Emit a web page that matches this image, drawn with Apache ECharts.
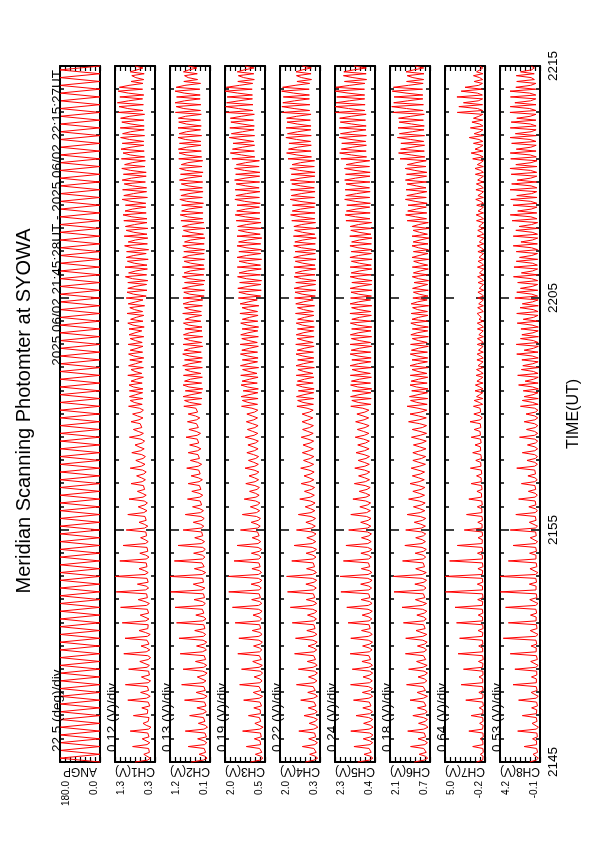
<!DOCTYPE html>
<html><head><meta charset="utf-8">
<script src="https://cdn.jsdelivr.net/npm/echarts@6/dist/echarts.min.js"></script>
<style>
html,body{margin:0;padding:0;width:595px;height:842px;overflow:hidden;background:#fff;}
#chart{position:absolute;left:0;top:0;width:842px;height:595px;transform-origin:0 0;transform:translateY(842px) rotate(-90deg);}
</style></head><body><div id="chart"></div>
<script>
// ---- data ----
const timeTickLabels = ['2145', '2155', '2205', '2215'];
const sampleStep = 5;   // seconds between channel samples
const angStep = 10;     // seconds between scan turning points
const panelNames = ['ANGP', 'CH1(V)', 'CH2(V)', 'CH3(V)', 'CH4(V)', 'CH5(V)', 'CH6(V)', 'CH7(V)', 'CH8(V)'];
const scaleLabels = ['22.5 (deg)/div', '0.12 (V)/div', '0.13 (V)/div', '0.19 (V)/div', '0.22 (V)/div', '0.24 (V)/div', '0.18 (V)/div', '0.64 (V)/div', '0.53 (V)/div'];
const yMin = [0.0, 0.3, 0.1, 0.5, 0.3, 0.4, 0.7, -0.2, -0.1];
const yMax = [180.0, 1.3, 1.2, 2.0, 2.0, 2.3, 2.1, 5.0, 4.2];
const titleText = 'Meridian Scanning Photomter at SYOWA';
const periodText = '2025 06/02 21:45:28UT - 2025 06/02 22:15:27UT';

const angp = [
0,180,0,180,0,180,0,180,0,180,0,180,0,180,0,180,0,180,0,180,
0,180,0,180,0,180,0,180,0,180,0,180,0,180,0,180,0,180,0,180,
0,180,0,180,0,180,0,180,0,180,0,180,0,180,0,180,0,180,0,180,
0,180,0,180,0,180,0,180,0,180,0,180,0,180,0,180,0,180,0,180,
0,180,0,180,0,180,0,180,0,180,0,180,0,180,0,180,0,180,0,180,
0,180,0,180,0,180,0,180,0,180,0,180,0,180,0,180,0,180,0,180,
0,180,0,180,0,180,0,180,0,180,0,180,0,180,0,180,0,180,0,180,
0,180,0,180,0,180,0,180,0,180,0,180,0,180,0,180,0,180,0,180,
0,180,0,180,0,180,0,180,0,180,0,180,0,180,0,180,0,180,0,180,
0];

const ch1 = [
0.80,0.48,0.42,0.50,0.58,0.44,0.40,0.46, 0.86,0.50,0.43,0.47,0.62,0.45,0.41,0.48,
0.92,0.46,0.40,0.52,0.60,0.47,0.42,0.45, 0.84,0.49,0.44,0.48,0.63,0.43,0.40,0.47,
0.98,0.51,0.42,0.50,0.66,0.46,0.43,0.49, 1.04,0.47,0.41,0.53,0.64,0.44,0.42,0.46,
0.96,0.50,0.44,0.49,0.68,0.47,0.41,0.48, 1.08,0.52,0.43,0.51,0.65,0.45,0.44,0.50,
1.05,0.49,0.42,0.54,0.70,0.48,0.43,0.47, 1.12,0.53,0.45,0.50,0.67,0.46,0.42,0.49,
1.16,0.51,0.44,0.55,0.72,0.49,0.45,0.51, 1.27,0.54,0.46,0.52,0.74,0.47,0.44,0.50,
1.30,0.55,0.47,0.56,0.70,0.50,0.46,0.52, 1.18,0.52,0.45,0.53,0.68,0.48,0.45,0.50,
1.10,0.54,0.47,0.55,0.66,0.51,0.46,0.53, 1.02,0.56,0.48,0.57,0.70,0.52,0.48,0.55,
0.98,0.58,0.50,0.60,0.72,0.55,0.49,0.57, 0.95,0.60,0.52,0.62,0.74,0.56,0.51,0.59,
0.90,0.62,0.54,0.64,0.76,0.58,0.52,0.61, 0.92,0.64,0.55,0.66,0.78,0.60,0.54,0.63,
0.88,0.66,0.57,0.70,0.80,0.62,0.56,0.65, 0.94,0.68,0.59,0.72,0.84,0.63,0.58,0.67,
0.90,0.70,0.60,0.74,0.86,0.65,0.59,0.69,
0.96,0.62,0.82,0.92,0.60,0.94,0.78,0.61, 0.94,0.60,0.84,0.95,0.62,0.90,0.76,0.59,
0.98,0.63,0.80,0.90,0.59,0.96,0.79,0.62, 0.93,0.58,0.83,0.96,0.61,0.92,0.75,0.60,
0.97,0.62,0.79,0.92,0.58,0.95,0.80,0.63, 0.95,0.57,0.85,0.98,0.60,0.91,0.77,0.58,
1.00,0.61,0.81,0.93,0.56,0.97,0.78,0.60, 1.02,0.52,0.84,1.00,0.50,0.98,0.80,0.51,
0.98,0.48,0.86,1.04,0.51,0.96,0.78,0.49, 1.05,0.50,0.82,0.99,0.47,1.02,0.83,0.52,
1.01,0.46,0.87,1.06,0.49,0.97,0.79,0.48, 1.07,0.50,0.83,1.02,0.48,1.04,0.81,0.50,
1.08,0.50,0.88,1.10,0.52,1.05,0.86,0.53, 1.04,0.53,0.90,1.12,0.49,1.08,0.84,0.51,
1.11,0.51,0.86,1.07,0.54,1.12,0.89,0.52, 1.09,0.52,0.91,1.13,0.55,1.06,0.87,0.54,
1.14,0.56,0.92,1.10,0.57,1.15,0.90,0.58, 1.12,0.58,0.94,1.16,0.56,1.11,0.91,0.57,
1.17,0.57,0.90,1.13,0.58,1.16,0.93,0.56, 1.22,0.60,0.98,1.20,0.59,1.24,0.96,0.61,
1.18,0.58,0.97,1.22,0.61,1.19,0.95,0.60, 0.90,0.58,0.78,0.88,0.57,0.92,0.75,0.60,
0.80];

const ch2 = [
0.62,0.28,0.18,0.24,0.40,0.22,0.17,0.26, 0.70,0.25,0.19,0.27,0.44,0.20,0.18,0.24,
0.78,0.27,0.17,0.23,0.42,0.24,0.19,0.28, 0.66,0.30,0.20,0.26,0.46,0.21,0.17,0.25,
0.80,0.26,0.18,0.29,0.48,0.23,0.20,0.27, 0.88,0.29,0.21,0.25,0.45,0.25,0.18,0.30,
0.84,0.27,0.19,0.28,0.50,0.22,0.21,0.26, 0.92,0.31,0.20,0.26,0.47,0.26,0.19,0.29,
0.95,0.28,0.22,0.30,0.52,0.24,0.20,0.27, 1.02,0.30,0.21,0.27,0.49,0.27,0.22,0.31,
1.06,0.29,0.23,0.31,0.54,0.25,0.21,0.28, 1.18,0.32,0.24,0.29,0.56,0.28,0.23,0.30,
1.20,0.31,0.22,0.33,0.53,0.26,0.24,0.32, 1.08,0.30,0.24,0.31,0.55,0.29,0.23,0.30,
0.98,0.33,0.25,0.34,0.52,0.30,0.26,0.33, 0.84,0.34,0.27,0.36,0.56,0.32,0.26,0.35,
0.78,0.36,0.28,0.38,0.58,0.33,0.29,0.37, 0.72,0.38,0.30,0.40,0.60,0.35,0.30,0.39,
0.70,0.40,0.31,0.42,0.62,0.37,0.32,0.41, 0.74,0.42,0.33,0.44,0.64,0.39,0.34,0.43,
0.70,0.44,0.35,0.46,0.66,0.41,0.36,0.45, 0.76,0.45,0.36,0.48,0.68,0.42,0.37,0.47,
0.72,0.47,0.38,0.50,0.70,0.44,0.39,0.49,
0.82,0.34,0.66,0.80,0.32,0.84,0.62,0.33, 0.78,0.30,0.68,0.84,0.33,0.80,0.64,0.31,
0.83,0.35,0.63,0.79,0.31,0.85,0.66,0.34, 0.80,0.31,0.67,0.85,0.34,0.81,0.63,0.30,
0.84,0.33,0.64,0.81,0.30,0.83,0.67,0.32, 0.79,0.32,0.69,0.83,0.35,0.78,0.62,0.33,
0.85,0.34,0.65,0.80,0.31,0.84,0.66,0.30, 0.84,0.26,0.66,0.82,0.25,0.86,0.62,0.27,
0.80,0.24,0.68,0.86,0.27,0.81,0.64,0.25, 0.86,0.27,0.63,0.81,0.25,0.85,0.67,0.26,
0.82,0.25,0.69,0.85,0.26,0.80,0.63,0.24, 0.87,0.28,0.65,0.83,0.24,0.86,0.66,0.27,
0.90,0.30,0.72,0.92,0.29,0.88,0.70,0.31, 0.88,0.28,0.74,0.93,0.31,0.90,0.68,0.29,
0.93,0.31,0.70,0.89,0.30,0.94,0.73,0.32, 0.91,0.29,0.75,0.94,0.32,0.89,0.71,0.30,
0.96,0.33,0.76,0.95,0.34,0.97,0.74,0.35, 0.94,0.35,0.78,0.98,0.33,0.95,0.75,0.36,
0.98,0.34,0.75,0.96,0.36,0.97,0.77,0.34, 1.05,0.36,0.82,1.03,0.35,1.06,0.80,0.37,
1.02,0.37,0.81,1.06,0.38,1.03,0.79,0.36, 0.82,0.44,0.70,0.80,0.45,0.83,0.68,0.46,
0.70];

const ch3 = [
1.05,0.68,0.58,0.66,0.86,0.62,0.57,0.70, 1.20,0.66,0.59,0.69,0.90,0.64,0.58,0.67,
1.34,0.70,0.57,0.64,0.88,0.66,0.59,0.71, 1.12,0.67,0.60,0.68,0.92,0.63,0.58,0.69,
1.30,0.71,0.59,0.66,0.94,0.65,0.60,0.72, 1.45,0.69,0.61,0.70,0.91,0.67,0.59,0.68,
1.38,0.72,0.60,0.67,0.96,0.64,0.61,0.71, 1.52,0.70,0.62,0.71,0.93,0.68,0.60,0.73,
1.48,0.73,0.61,0.69,0.98,0.66,0.62,0.70, 1.62,0.71,0.63,0.72,0.95,0.69,0.61,0.74,
1.72,0.74,0.62,0.70,1.00,0.67,0.63,0.72, 1.86,0.72,0.64,0.73,1.02,0.70,0.62,0.75,
1.88,0.75,0.63,0.71,0.99,0.68,0.64,0.73, 1.66,0.73,0.65,0.74,1.01,0.71,0.63,0.76,
1.55,0.76,0.66,0.77,0.98,0.72,0.65,0.78, 1.42,0.78,0.68,0.80,1.02,0.75,0.67,0.82,
1.35,0.82,0.70,0.84,1.05,0.78,0.69,0.85, 1.28,0.84,0.72,0.86,1.08,0.80,0.71,0.88,
1.22,0.87,0.74,0.90,1.10,0.83,0.73,0.91, 1.25,0.88,0.75,0.92,1.12,0.85,0.74,0.93,
1.18,0.90,0.76,0.94,1.14,0.86,0.75,0.95, 1.24,0.91,0.77,0.96,1.16,0.88,0.76,0.97,
1.20,0.92,0.78,0.98,1.18,0.89,0.77,0.99,
1.38,0.78,1.14,1.35,0.76,1.40,1.10,0.77, 1.32,0.75,1.16,1.40,0.79,1.36,1.08,0.76,
1.41,0.80,1.10,1.34,0.74,1.42,1.13,0.78, 1.35,0.76,1.15,1.42,0.78,1.37,1.09,0.75,
1.43,0.79,1.11,1.37,0.75,1.41,1.14,0.77, 1.36,0.74,1.17,1.41,0.77,1.35,1.08,0.76,
1.44,0.78,1.12,1.36,0.73,1.43,1.13,0.79, 1.50,0.66,1.18,1.48,0.64,1.52,1.14,0.65,
1.45,0.63,1.20,1.53,0.67,1.47,1.16,0.64, 1.54,0.67,1.15,1.47,0.63,1.55,1.19,0.66,
1.48,0.64,1.21,1.55,0.66,1.49,1.15,0.62, 1.55,0.68,1.17,1.50,0.62,1.53,1.20,0.65,
1.58,0.70,1.24,1.62,0.69,1.56,1.22,0.71, 1.55,0.68,1.26,1.63,0.71,1.59,1.20,0.69,
1.62,0.72,1.22,1.58,0.70,1.64,1.25,0.70, 1.60,0.69,1.27,1.64,0.72,1.57,1.23,0.71,
1.74,0.88,1.38,1.80,0.90,1.72,1.35,0.89, 1.70,0.92,1.40,1.84,0.89,1.76,1.34,0.91,
1.82,0.90,1.36,1.78,0.93,1.80,1.39,0.90, 1.96,0.96,1.50,1.98,0.95,1.94,1.48,0.97,
1.92,0.97,1.52,2.00,0.98,1.95,1.46,0.96, 1.52,0.90,1.30,1.50,0.92,1.54,1.28,0.91,
1.25];

const ch4 = [
0.92,0.55,0.40,0.50,0.74,0.46,0.39,0.56, 1.05,0.52,0.41,0.54,0.78,0.48,0.40,0.53,
1.20,0.57,0.39,0.49,0.76,0.51,0.41,0.58, 0.98,0.54,0.42,0.53,0.80,0.47,0.40,0.55,
1.12,0.58,0.41,0.51,0.82,0.50,0.42,0.59, 1.30,0.55,0.43,0.56,0.79,0.52,0.41,0.54,
1.22,0.59,0.42,0.52,0.84,0.49,0.43,0.57, 1.38,0.56,0.44,0.57,0.81,0.53,0.42,0.60,
1.34,0.60,0.43,0.54,0.86,0.51,0.44,0.56, 1.48,0.57,0.45,0.58,0.83,0.54,0.43,0.61,
1.56,0.61,0.44,0.55,0.88,0.52,0.45,0.58, 1.68,0.58,0.46,0.59,0.90,0.55,0.44,0.62,
1.72,0.62,0.45,0.56,0.87,0.53,0.46,0.59, 1.50,0.59,0.47,0.60,0.89,0.56,0.45,0.63,
1.40,0.63,0.48,0.62,0.86,0.58,0.47,0.64, 1.30,0.65,0.50,0.66,0.90,0.61,0.49,0.68,
1.22,0.68,0.52,0.70,0.93,0.64,0.51,0.71, 1.16,0.70,0.54,0.72,0.96,0.66,0.53,0.74,
1.10,0.73,0.56,0.76,0.98,0.69,0.55,0.77, 1.12,0.74,0.57,0.78,1.00,0.71,0.56,0.79,
1.05,0.76,0.58,0.80,1.02,0.72,0.57,0.81, 1.10,0.77,0.59,0.82,1.04,0.74,0.58,0.83,
1.06,0.78,0.60,0.84,1.06,0.75,0.59,0.85,
1.28,0.58,1.02,1.25,0.56,1.30,0.98,0.57, 1.22,0.55,1.04,1.30,0.59,1.26,0.96,0.56,
1.31,0.60,0.99,1.24,0.54,1.32,1.01,0.58, 1.25,0.56,1.03,1.32,0.58,1.27,0.97,0.55,
1.33,0.59,0.98,1.27,0.55,1.31,1.02,0.57, 1.26,0.54,1.05,1.31,0.57,1.25,0.96,0.56,
1.34,0.58,1.00,1.26,0.53,1.33,1.01,0.59, 1.38,0.50,1.06,1.36,0.48,1.40,1.02,0.49,
1.33,0.47,1.08,1.40,0.51,1.35,1.04,0.48, 1.41,0.51,1.03,1.35,0.47,1.42,1.07,0.50,
1.36,0.48,1.09,1.42,0.50,1.37,1.03,0.46, 1.43,0.52,1.05,1.38,0.46,1.41,1.08,0.49,
1.50,0.52,1.14,1.55,0.51,1.48,1.12,0.53, 1.47,0.50,1.16,1.57,0.53,1.52,1.10,0.51,
1.55,0.54,1.12,1.50,0.52,1.56,1.15,0.52, 1.52,0.51,1.17,1.58,0.54,1.49,1.13,0.53,
1.66,0.66,1.28,1.72,0.68,1.64,1.26,0.67, 1.62,0.70,1.30,1.75,0.67,1.68,1.25,0.69,
1.74,0.68,1.27,1.70,0.71,1.72,1.29,0.68, 1.90,0.74,1.40,1.92,0.73,1.88,1.38,0.75,
1.86,0.75,1.42,1.93,0.76,1.89,1.36,0.74, 1.28,0.66,1.08,1.30,0.68,1.32,1.05,0.67,
1.05];

const ch5 = [
1.22,0.66,0.50,0.62,0.92,0.58,0.49,0.68, 1.40,0.63,0.51,0.66,0.96,0.60,0.50,0.65,
1.55,0.68,0.49,0.61,0.94,0.63,0.51,0.70, 1.30,0.65,0.52,0.64,0.98,0.59,0.50,0.67,
1.42,0.69,0.51,0.62,1.00,0.62,0.52,0.71, 1.56,0.66,0.53,0.67,0.97,0.64,0.51,0.66,
1.48,0.70,0.52,0.63,1.02,0.61,0.53,0.69, 1.58,0.67,0.54,0.68,0.99,0.65,0.52,0.72,
1.55,0.71,0.53,0.65,1.04,0.63,0.54,0.68, 1.68,0.68,0.55,0.69,1.01,0.66,0.53,0.73,
1.74,0.72,0.54,0.66,1.06,0.64,0.55,0.70, 2.02,0.69,0.56,0.70,1.08,0.67,0.54,0.74,
2.06,0.73,0.55,0.67,1.05,0.65,0.56,0.71, 1.90,0.70,0.57,0.71,1.07,0.68,0.55,0.75,
1.78,0.74,0.58,0.73,1.04,0.69,0.57,0.76, 1.65,0.76,0.60,0.78,1.08,0.72,0.59,0.80,
1.55,0.80,0.62,0.82,1.12,0.75,0.61,0.84, 1.45,0.83,0.64,0.85,1.15,0.78,0.63,0.87,
1.38,0.86,0.66,0.89,1.18,0.81,0.65,0.90, 1.36,0.88,0.67,0.91,1.20,0.83,0.66,0.92,
1.30,0.90,0.68,0.93,1.22,0.85,0.67,0.94, 1.34,0.91,0.69,0.95,1.24,0.87,0.68,0.96,
1.32,0.92,0.70,0.97,1.26,0.88,0.69,0.98,
1.55,0.60,1.20,1.50,0.58,1.56,1.16,0.59, 1.48,0.56,1.22,1.56,0.61,1.52,1.14,0.57,
1.57,0.62,1.16,1.49,0.57,1.58,1.19,0.60, 1.50,0.58,1.21,1.58,0.60,1.53,1.15,0.56,
1.58,0.61,1.15,1.52,0.56,1.57,1.20,0.59, 1.51,0.55,1.23,1.57,0.59,1.50,1.14,0.57,
1.59,0.60,1.17,1.51,0.55,1.58,1.19,0.61, 1.56,0.57,1.18,1.54,0.55,1.58,1.15,0.56,
1.50,0.54,1.20,1.58,0.58,1.53,1.13,0.55, 1.58,0.58,1.14,1.52,0.54,1.59,1.18,0.57,
1.53,0.55,1.21,1.59,0.57,1.51,1.14,0.54, 1.60,0.59,1.16,1.55,0.53,1.58,1.19,0.56,
1.78,0.64,1.32,1.82,0.63,1.76,1.30,0.65, 1.74,0.62,1.34,1.84,0.65,1.79,1.28,0.63,
1.82,0.66,1.30,1.78,0.64,1.84,1.33,0.64, 1.80,0.63,1.35,1.85,0.66,1.77,1.31,0.65,
2.02,0.80,1.52,2.08,0.82,2.00,1.48,0.81, 1.98,0.84,1.54,2.10,0.81,2.04,1.47,0.83,
2.10,0.82,1.50,2.05,0.85,2.08,1.53,0.82, 2.28,0.88,1.66,2.30,0.87,2.25,1.62,0.89,
2.22,0.89,1.68,2.29,0.90,2.26,1.60,0.88, 1.85,0.80,1.45,1.90,0.82,1.88,1.42,0.81,
1.40];

const ch6 = [
1.25,0.90,0.78,0.86,1.08,0.83,0.77,0.92, 1.38,0.88,0.79,0.89,1.12,0.85,0.78,0.90,
1.48,0.92,0.77,0.85,1.10,0.87,0.79,0.93, 1.30,0.89,0.80,0.88,1.14,0.84,0.78,0.91,
1.40,0.93,0.79,0.86,1.15,0.86,0.80,0.94, 1.52,0.90,0.81,0.90,1.12,0.88,0.79,0.91,
1.45,0.94,0.80,0.87,1.17,0.85,0.81,0.93, 1.56,0.91,0.82,0.91,1.14,0.89,0.80,0.95,
1.55,0.95,0.81,0.88,1.19,0.87,0.82,0.92, 1.63,0.92,0.83,0.92,1.16,0.90,0.81,0.96,
1.68,0.96,0.82,0.89,1.21,0.88,0.83,0.93, 1.96,0.93,0.84,0.93,1.23,0.91,0.82,0.97,
1.99,0.97,0.83,0.90,1.20,0.89,0.84,0.94, 1.66,0.94,0.85,0.94,1.22,0.92,0.83,0.98,
1.58,0.98,0.86,0.97,1.20,0.93,0.85,0.99, 1.55,1.00,0.86,1.02,1.25,0.96,0.85,1.04,
1.50,1.04,0.88,1.06,1.28,0.99,0.87,1.08, 1.45,1.06,0.89,1.08,1.30,1.01,0.88,1.10,
1.40,1.08,0.90,1.10,1.32,1.03,0.89,1.12, 1.36,1.06,0.86,1.09,1.30,1.00,0.85,1.10,
1.30,1.03,0.84,1.06,1.28,0.98,0.83,1.07, 1.35,1.04,0.82,1.05,1.32,0.97,0.82,1.06,
1.45,1.08,0.83,1.10,1.40,1.02,0.81,1.12,
1.50,0.80,1.16,1.38,0.78,1.42,1.12,0.79, 1.34,0.77,1.18,1.40,0.80,1.36,1.10,0.78,
1.39,0.81,1.12,1.33,0.77,1.40,1.14,0.79, 1.33,0.78,1.16,1.39,0.79,1.35,1.11,0.76,
1.38,0.80,1.11,1.32,0.76,1.37,1.15,0.78, 1.32,0.76,1.17,1.37,0.78,1.33,1.10,0.77,
1.36,0.79,1.13,1.31,0.75,1.36,1.14,0.80, 1.30,0.77,1.08,1.28,0.76,1.31,1.05,0.78,
1.26,0.75,1.10,1.32,0.78,1.28,1.04,0.76, 1.32,0.78,1.06,1.27,0.75,1.33,1.08,0.77,
1.28,0.76,1.11,1.33,0.77,1.29,1.05,0.74, 1.33,0.79,1.07,1.29,0.74,1.32,1.09,0.76,
1.50,0.82,1.20,1.55,0.81,1.48,1.18,0.83, 1.47,0.80,1.22,1.56,0.83,1.51,1.16,0.81,
1.54,0.84,1.18,1.50,0.82,1.56,1.21,0.82, 1.52,0.81,1.23,1.57,0.84,1.49,1.19,0.83,
1.75,0.88,1.36,1.80,0.90,1.73,1.33,0.89, 1.72,0.92,1.38,1.84,0.89,1.77,1.32,0.91,
1.82,0.90,1.34,1.78,0.93,1.80,1.37,0.90, 2.00,0.94,1.52,2.04,0.93,1.97,1.48,0.95,
1.96,0.95,1.54,2.02,0.96,1.98,1.46,0.94, 1.52,0.92,1.30,1.50,0.91,1.54,1.27,0.92,
1.22];

const ch7 = [
0.90,0.10,-0.05,0.05,0.40,0.02,-0.06,0.08, 1.40,0.06,-0.04,0.09,0.45,0.03,-0.05,0.07,
1.90,0.12,-0.06,0.04,0.50,0.05,-0.04,0.10, 1.60,0.08,-0.03,0.07,0.55,0.01,-0.05,0.09,
2.30,0.11,-0.04,0.05,0.60,0.04,-0.03,0.12, 2.90,0.09,-0.02,0.10,0.58,0.06,-0.04,0.08,
2.60,0.13,-0.03,0.06,0.65,0.03,-0.02,0.11, 3.30,0.10,-0.01,0.11,0.62,0.07,-0.03,0.13,
3.10,0.14,-0.02,0.08,0.70,0.05,-0.01,0.10, 3.50,0.11,0.00,0.12,0.68,0.08,-0.02,0.14,
3.70,0.15,-0.01,0.09,0.75,0.06,0.00,0.12, 4.95,0.12,0.01,0.13,0.80,0.09,-0.01,0.15,
5.00,0.16,0.00,0.10,0.72,0.07,0.01,0.13, 4.40,0.13,0.02,0.14,0.78,0.10,0.00,0.16,
3.40,0.17,0.03,0.15,0.70,0.11,0.02,0.17, 2.50,0.18,0.04,0.18,0.74,0.13,0.03,0.19,
2.20,0.20,0.05,0.22,0.80,0.15,0.04,0.22, 1.90,0.24,0.06,0.26,0.85,0.18,0.05,0.25,
1.60,0.28,0.08,0.30,0.90,0.22,0.07,0.29, 1.70,0.32,0.10,0.36,1.00,0.26,0.09,0.34,
1.40,0.36,0.12,0.40,1.10,0.30,0.11,0.38, 1.60,0.40,0.14,0.44,1.20,0.34,0.12,0.42,
1.75,0.42,0.15,0.46,1.25,0.36,0.13,0.44,
1.30,0.10,0.55,1.20,0.08,0.90,0.48,0.09, 1.10,0.06,0.48,1.05,0.05,0.85,0.42,0.07,
0.95,0.04,0.40,0.90,0.03,0.70,0.36,0.05, 0.85,0.03,0.36,0.82,0.02,0.65,0.32,0.04,
0.80,0.02,0.33,0.78,0.01,0.60,0.30,0.03, 0.78,0.01,0.31,0.80,0.00,0.58,0.28,0.02,
0.82,0.02,0.30,0.75,0.01,0.62,0.29,0.01, 0.75,-0.02,0.28,0.72,-0.03,0.55,0.26,-0.01,
0.70,-0.03,0.27,0.76,-0.02,0.52,0.24,-0.03, 0.78,-0.02,0.25,0.70,-0.04,0.58,0.27,-0.02,
0.72,-0.04,0.29,0.80,-0.03,0.54,0.25,-0.04, 0.82,-0.03,0.24,0.74,-0.05,0.60,0.28,-0.02,
0.90,0.00,0.34,0.95,-0.01,0.70,0.30,0.01, 0.88,-0.01,0.35,1.00,0.01,0.72,0.29,0.00,
0.98,0.02,0.32,0.92,0.00,0.75,0.36,0.01, 1.05,0.01,0.37,1.10,0.02,0.80,0.33,0.02,
1.40,0.05,0.55,1.60,0.06,1.10,0.48,0.06, 1.30,0.08,0.58,1.85,0.05,1.20,0.45,0.07,
1.70,0.07,0.50,1.50,0.09,1.30,0.60,0.08, 3.40,0.10,0.75,3.20,0.12,2.60,0.68,0.11,
3.45,0.14,0.80,2.90,0.15,2.40,0.62,0.13, 1.20,0.10,0.50,1.30,0.08,0.90,0.46,0.09,
0.50];

const ch8 = [
1.00,0.30,0.08,0.22,0.65,0.16,0.07,0.26, 1.60,0.26,0.09,0.28,0.70,0.18,0.08,0.24,
2.30,0.32,0.07,0.20,0.75,0.22,0.09,0.30, 1.80,0.28,0.10,0.25,0.80,0.17,0.08,0.27,
2.20,0.33,0.09,0.23,0.85,0.21,0.10,0.31, 2.80,0.29,0.11,0.29,0.82,0.24,0.09,0.26,
2.60,0.34,0.10,0.24,0.90,0.19,0.11,0.29, 3.10,0.31,0.12,0.30,0.87,0.25,0.10,0.33,
3.85,0.35,0.11,0.26,0.95,0.22,0.12,0.28, 3.30,0.32,0.13,0.31,0.92,0.26,0.11,0.34,
3.60,0.36,0.12,0.27,1.00,0.23,0.13,0.30, 4.15,0.33,0.14,0.32,1.05,0.27,0.12,0.35,
4.20,0.37,0.13,0.28,0.98,0.24,0.14,0.31, 3.30,0.34,0.15,0.33,1.02,0.28,0.13,0.36,
2.80,0.38,0.16,0.35,0.95,0.30,0.15,0.37, 3.10,0.40,0.17,0.38,1.05,0.32,0.16,0.40,
2.50,0.42,0.18,0.40,1.10,0.34,0.17,0.42, 2.20,0.44,0.19,0.42,1.15,0.36,0.18,0.44,
1.90,0.46,0.20,0.44,1.20,0.38,0.19,0.46, 2.40,0.48,0.18,0.46,1.30,0.40,0.17,0.48,
1.80,0.46,0.16,0.45,1.25,0.38,0.15,0.47, 2.10,0.47,0.15,0.48,1.35,0.40,0.14,0.49,
1.60,0.45,0.14,0.46,1.40,0.38,0.13,0.47,
2.00,0.10,0.70,1.80,0.09,1.60,0.65,0.11, 1.70,0.08,0.72,2.20,0.10,1.50,0.58,0.09,
2.30,0.11,0.60,1.90,0.08,1.75,0.68,0.10, 1.85,0.09,0.74,2.40,0.11,1.60,0.60,0.08,
2.45,0.10,0.62,2.00,0.07,1.85,0.66,0.09, 1.95,0.08,0.75,2.35,0.10,1.70,0.59,0.11,
2.40,0.11,0.63,2.05,0.09,1.80,0.70,0.10, 2.60,0.16,0.78,2.40,0.14,2.00,0.74,0.15,
2.30,0.15,0.80,2.75,0.17,1.90,0.70,0.16, 2.70,0.18,0.72,2.45,0.15,2.10,0.78,0.17,
2.45,0.16,0.82,2.78,0.18,1.95,0.72,0.15, 2.78,0.17,0.74,2.50,0.14,2.15,0.80,0.16,
2.90,0.22,0.88,3.10,0.24,2.30,0.84,0.23, 2.80,0.24,0.90,3.05,0.22,2.40,0.80,0.25,
3.12,0.23,0.85,2.95,0.25,2.35,0.90,0.24, 3.00,0.25,0.92,3.13,0.23,2.50,0.86,0.22,
3.05,0.30,0.95,3.10,0.32,2.45,0.88,0.31, 2.95,0.33,0.98,3.12,0.31,2.55,0.86,0.32,
3.10,0.32,0.94,3.00,0.34,2.40,0.96,0.33, 3.13,0.34,1.00,3.10,0.33,2.60,0.92,0.35,
3.08,0.35,1.02,3.12,0.36,2.50,0.90,0.34, 2.40,0.50,0.85,2.45,0.52,2.00,0.82,0.51,
0.85];

const panelData = [angp, ch1, ch2, ch3, ch4, ch5, ch6, ch7, ch8];
const panelStep = [angStep, sampleStep, sampleStep, sampleStep, sampleStep, sampleStep, sampleStep, sampleStep, sampleStep];

// ---- layout (landscape canvas, rotated by CSS) ----
const FONT = '"Liberation Sans", Arial, Helvetica, sans-serif';
const plotLeft = 80, plotWidth = 696, panelH = 40, firstTop = 60, panelGap = 55;
const black = '#000';

const chart = echarts.init(document.getElementById('chart'), null, {renderer: 'canvas'});
const grids = [], xAxes = [], yAxes = [], series = [];
const titles = [
  {text: titleText, left: plotLeft + plotWidth / 2 - 2, textAlign: 'center', top: 9,
   textStyle: {fontSize: 20, fontWeight: 'normal', color: black, fontFamily: FONT}},
  {text: periodText, right: 842 - (plotLeft + plotWidth) - 1, top: 45,
   textStyle: {fontSize: 13.5, fontWeight: 'normal', color: black, fontFamily: FONT}}
];

for (let i = 0; i < panelData.length; i++) {
  const top = firstTop + panelGap * i;
  const isLast = i === panelData.length - 1;
  grids.push({left: plotLeft, width: plotWidth, top: top, height: panelH, containLabel: false, outerBoundsMode: 'none'});
  titles.push({text: scaleLabels[i], left: plotLeft + 5, top: top - 15,
    textStyle: {fontSize: 13.5, fontWeight: 'normal', color: black, fontFamily: FONT}});

  const xCommon = {
    type: 'value', gridIndex: i, min: 0, max: 1800, interval: 600,
    axisLine: {show: true, onZero: false, lineStyle: {color: black, width: 2}},
    axisTick: {show: true, inside: true, length: 9, lineStyle: {color: black, width: 1.5}},
    minorTick: {show: true, splitNumber: 10, length: 4, lineStyle: {color: black, width: 1.5}},
    splitLine: {show: false}, minorSplitLine: {show: false}
  };
  xAxes.push(Object.assign({}, xCommon, {
    position: 'bottom',
    axisLabel: {show: isLast, margin: 6, fontSize: 13.5, color: black, fontFamily: FONT,
      formatter: v => timeTickLabels[Math.round(v / 600)]},
    name: isLast ? 'TIME(UT)' : '', nameLocation: 'middle', nameGap: 26, nameMoveOverlap: false,
    nameTextStyle: {fontSize: 16, color: black, fontFamily: FONT}
  }));
  xAxes.push(Object.assign({}, xCommon, {position: 'top', axisLabel: {show: false}}));

  const lo = yMin[i], hi = yMax[i];
  const tickVals = [];
  for (let j = 0; j <= 8; j++) tickVals.push(lo + (hi - lo) * j / 8);
  const yCommon = {
    type: 'value', gridIndex: i, min: lo, max: hi,
    axisLine: {show: true, onZero: false, lineStyle: {color: black, width: 2}},
    axisTick: {show: true, inside: true, length: 5, customValues: tickVals, lineStyle: {color: black, width: 1.2}},
    splitLine: {show: false}
  };
  yAxes.push(Object.assign({}, yCommon, {
    position: 'left',
    axisLabel: {show: true, customValues: [lo, hi], margin: 19, fontSize: 10, color: black, fontFamily: FONT,
      formatter: v => (Math.abs(v - hi) < 1e-9 ? '{t|' + hi.toFixed(1) + '}' : '{b|' + lo.toFixed(1) + '}'),
      rich: {t: {padding: [12, 0, 0, 0], fontSize: 10, fontFamily: FONT, color: black},
             b: {padding: [0, 0, 11, 0], fontSize: 10, fontFamily: FONT, color: black}}},
    name: panelNames[i], nameLocation: 'middle', nameRotate: 90, nameGap: 3, nameMoveOverlap: false,
    nameTextStyle: {fontSize: 12, color: black, fontFamily: FONT}
  }));
  yAxes.push(Object.assign({}, yCommon, {position: 'right', axisLabel: {show: false}}));

  const step = panelStep[i];
  series.push({
    type: 'line', xAxisIndex: 2 * i, yAxisIndex: 2 * i,
    data: panelData[i].map((v, j) => [j * step, v]),
    showSymbol: false, symbol: 'none', clip: true, silent: true,
    lineStyle: {color: '#ff0000', width: 1}
  });
}

chart.setOption({
  animation: false,
  backgroundColor: '#fff',
  textStyle: {fontFamily: FONT, color: black},
  title: titles,
  grid: grids,
  xAxis: xAxes,
  yAxis: yAxes,
  series: series
});
</script></body></html>
